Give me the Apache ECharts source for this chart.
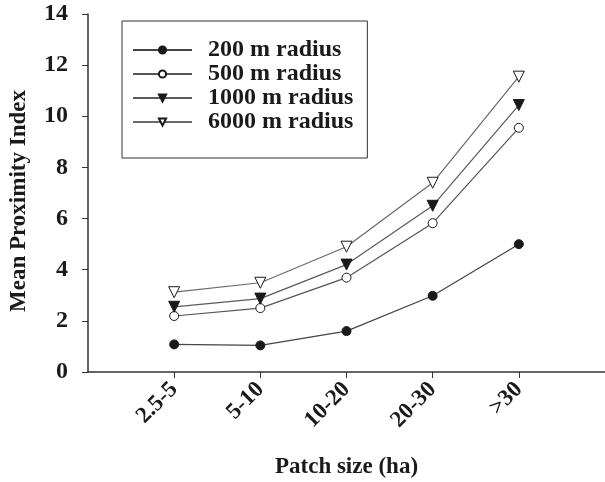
<!DOCTYPE html>
<html>
<head>
<meta charset="utf-8">
<script src="https://cdn.jsdelivr.net/npm/echarts@6/dist/echarts.min.js"></script>
<style>
  html, body { margin: 0; padding: 0; background: #fff; }
  #chart { width: 605px; height: 482px; }
</style>
</head>
<body>
<div id="chart"></div>
<script>
var categories = ['2.5-5', '5-10', '10-20', '20-30', '>30'];
var r200 = [1.08, 1.04, 1.6, 2.98, 5.0];
var r500 = [2.19, 2.5, 3.69, 5.82, 9.55];
var r1000 = [2.55, 2.87, 4.2, 6.5, 10.44];
var r6000 = [3.12, 3.49, 4.9, 7.4, 11.55];
var yTicks = [0, 2, 4, 6, 8, 10, 12, 14];

var serif = '"Liberation Serif", "DejaVu Serif", serif';

function pairs(vals) {
  return vals.map(function (v, i) { return [i + 1, v]; });
}

function makeSeries(name, vals, symbol, filled, rot, lineColor) {
  return {
    name: name,
    type: 'line',
    data: pairs(vals),
    symbol: symbol,
    symbolSize: symbol === 'circle' ? 9 : 11,
    symbolRotate: rot,
    showSymbol: true,
    lineStyle: { color: lineColor, width: 1.2 },
    itemStyle: {
      color: filled ? '#1a1a1a' : '#fff',
      borderColor: '#1a1a1a',
      borderWidth: 1
    },
    emphasis: { disabled: true }
  };
}

var chart = echarts.init(document.getElementById('chart'));
chart.setOption({
  backgroundColor: '#fff',
  animation: false,
  grid: { left: 88, right: 0, top: 14, bottom: 110, outerBoundsMode: 'none' },
  legend: {
    orient: 'vertical',
    left: 122,
    top: 21,
    padding: [17, 14, 24, 10],
    itemGap: 0,
    itemWidth: 59,
    itemHeight: 9,
    borderColor: '#333',
    borderWidth: 1,
    textStyle: {
      fontFamily: serif,
      fontWeight: 'bold',
      fontSize: 24,
      lineHeight: 24,
      color: '#1a1a1a',
      padding: [0, 0, 0, 11]
    },
    data: ['200 m radius', '500 m radius', '1000 m radius', '6000 m radius']
  },
  xAxis: {
    type: 'value',
    min: 0,
    max: 6,
    interval: 1,
    name: 'Patch size (ha)',
    nameLocation: 'middle',
    nameGap: 84,
    nameTextStyle: { fontFamily: serif, fontWeight: 'bold', fontSize: 23, color: '#1a1a1a' },
    splitLine: { show: false },
    axisLine: { lineStyle: { color: '#333', width: 1.5 } },
    axisTick: { show: true, length: 6, customValues: [1, 2, 3, 4, 5], lineStyle: { color: '#333' } },
    axisLabel: {
      customValues: [1, 2, 3, 4, 5],
      rotate: 45,
      margin: 14,
      fontFamily: serif,
      fontWeight: 'bold',
      fontSize: 23,
      color: '#1a1a1a',
      formatter: function (v) { return categories[v - 1] || ''; }
    }
  },
  yAxis: {
    type: 'value',
    min: 0,
    max: 14,
    interval: 2,
    name: 'Mean Proximity Index',
    nameLocation: 'middle',
    nameGap: 57,
    nameTextStyle: {
      fontFamily: serif, fontWeight: 'bold', fontSize: 23, color: '#1a1a1a',
      padding: [0, 16, 0, 0]
    },
    splitLine: { show: false },
    axisLine: { show: true, lineStyle: { color: '#333', width: 1.5 } },
    axisTick: { show: true, length: 6, lineStyle: { color: '#333' } },
    axisLabel: {
      margin: 20,
      fontFamily: serif,
      fontWeight: 'bold',
      fontSize: 24,
      color: '#1a1a1a',
      formatter: function (v) { return yTicks.indexOf(v) >= 0 ? String(v) : ''; }
    }
  },
  series: [
    makeSeries('200 m radius', r200, 'circle', true, 0, '#444'),
    makeSeries('500 m radius', r500, 'circle', false, 0, '#555'),
    makeSeries('1000 m radius', r1000, 'triangle', true, 180, '#5a5a5a'),
    makeSeries('6000 m radius', r6000, 'triangle', false, 180, '#6a6a6a')
  ]
});
</script>
</body>
</html>
